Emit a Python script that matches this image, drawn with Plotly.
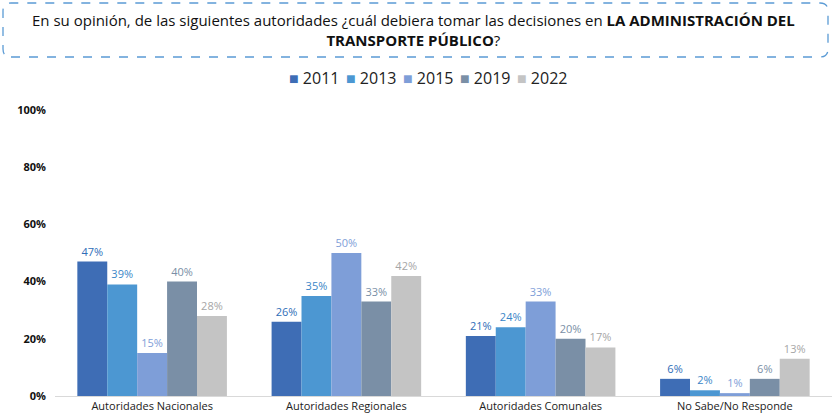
import plotly.graph_objects as go

categories = ["Autoridades Nacionales", "Autoridades Regionales",
              "Autoridades Comunales", "No Sabe/No Responde"]
years = ["2011", "2013", "2015", "2019", "2022"]
v2011 = [47, 26, 21, 6]
v2013 = [39, 35, 24, 2]
v2015 = [15, 50, 33, 1]
v2019 = [40, 33, 20, 6]
v2022 = [28, 42, 17, 13]
series = [v2011, v2013, v2015, v2019, v2022]

bar_colors = ["#3E6DB5", "#4C97D2", "#7E9ED8", "#7A8FA6", "#C4C4C4"]
label_colors = ["#2F6EB8", "#3A86C8", "#7E9ED8", "#7A8FA6", "#A6A6A6"]

W, H = 832, 419
ML, MR, MT, MB = 55, 0, 110, 23
PW = W - ML - MR
PH = H - MT - MB


def px(x):
    return (x - ML) / PW


def py(y):
    return (H - MB - y) / PH


fig = go.Figure()
for yr, vals, bc, lc in zip(years, series, bar_colors, label_colors):
    fig.add_trace(go.Bar(
        name=yr, x=categories, y=[v / 100 for v in vals],
        marker=dict(color=bc, line=dict(width=0)),
        text=[f"{v}%" for v in vals], textposition="outside",
        textfont=dict(color=lc, size=11, family="Open Sans"),
        cliponaxis=False, showlegend=False,
    ))

# legend drawn as a row of annotations (compact, like the original)
legend_ann = []
for i, (yr, bc) in enumerate(zip(years, bar_colors)):
    legend_ann.append(dict(
        xref="paper", yref="paper", x=px(287 + i * 57), y=py(78),
        xanchor="left", yanchor="middle", showarrow=False,
        text=f"<span style='color:{bc}'>■</span> {yr}",
        font=dict(size=16, color="#222222", family="Open Sans"),
    ))

# rounded dashed box for the question
x0, x1, y0, y1, r = px(3), px(828), py(57), py(3), 8
rx, ry = r / PW, r / PH
path = (f"M {x0+rx},{y0} L {x1-rx},{y0} Q {x1},{y0} {x1},{y0+ry} "
        f"L {x1},{y1-ry} Q {x1},{y1} {x1-rx},{y1} L {x0+rx},{y1} "
        f"Q {x0},{y1} {x0},{y1-ry} L {x0},{y0+ry} Q {x0},{y0} {x0+rx},{y0} Z")

fig.update_layout(
    width=W, height=H,
    margin=dict(l=ML, r=MR, t=MT, b=MB),
    plot_bgcolor="white", paper_bgcolor="white",
    barmode="group", bargap=0.23, bargroupgap=0,
    font=dict(family="Open Sans", color="#222222"),
    yaxis=dict(range=[0, 1], tickvals=[0, 0.2, 0.4, 0.6, 0.8, 1.0],
               tickformat=".0%", showgrid=False, zeroline=False,
               tickfont=dict(size=11, color="#111111", family="Open Sans",
                             weight="bold"),
               ticks="", ticklabelstandoff=8),
    xaxis=dict(showline=True, linecolor="#D9D9D9", linewidth=1,
               tickfont=dict(size=11, color="#222222", family="Open Sans"),
               ticks=""),
    shapes=[dict(type="path", xref="paper", yref="paper", path=path,
                 line=dict(color="#5B9BD5", width=1.3, dash="dash"))],
    annotations=[dict(
        xref="paper", yref="paper", x=px(413), y=py(30),
        xanchor="center", yanchor="middle", showarrow=False, align="center",
        text=("En su opinión, de las siguientes autoridades ¿cuál debiera tomar "
              "las decisiones en <b>LA ADMINISTRACIÓN DEL</b><br>"
              "<b>TRANSPORTE PÚBLICO</b>?"),
        font=dict(size=15, color="#111111", family="Open Sans"),
    )] + legend_ann,
)

fig.write_html("out.html", config={"displayModeBar": False},
               post_script="document.body.style.margin='0';")
